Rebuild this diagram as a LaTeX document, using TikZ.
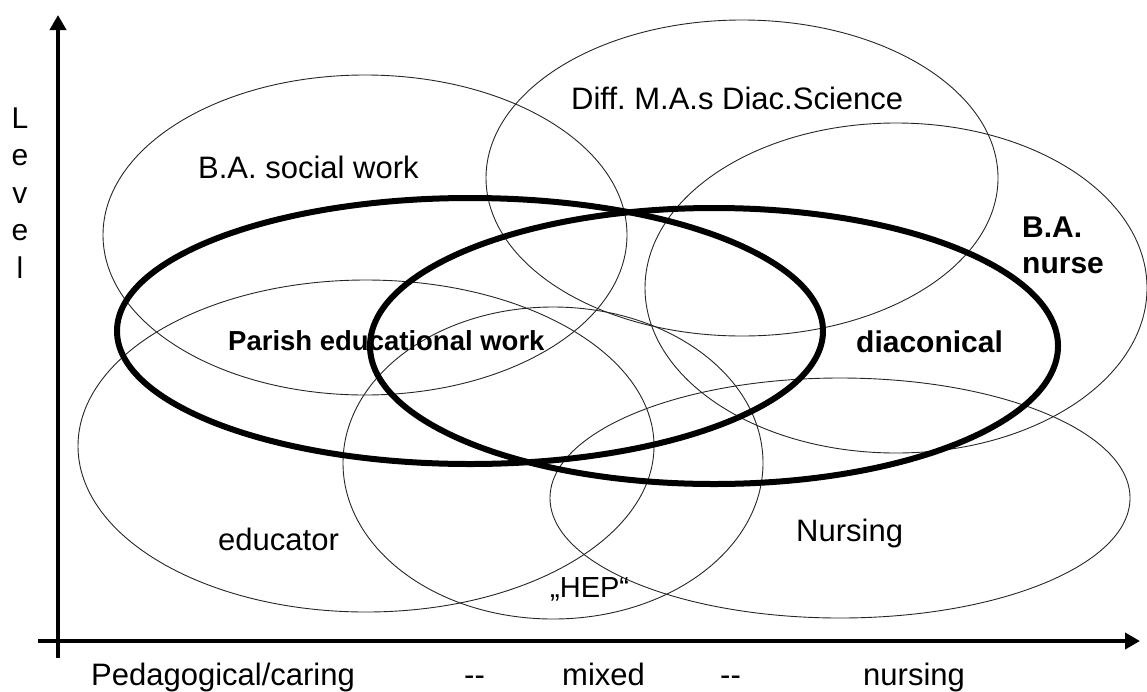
\documentclass[tikz,border=0pt]{standalone}
\usepackage{fontspec}
\setmainfont{Liberation Sans}
\usetikzlibrary{arrows.meta}
\frenchspacing
\begin{document}
\begin{tikzpicture}[x=1pt,y=-1pt,
  thinell/.style={draw=black!85, line width=0.9pt},
  thickell/.style={draw=black, line width=6pt},
  axisline/.style={draw=black, line width=4.5pt, -{Triangle[length=15pt,width=16pt]}},
  lbl/.style={anchor=base west, inner sep=0pt, font=\fontsize{31}{36}\selectfont},
  blbl/.style={anchor=base west, inner sep=0pt, font=\fontsize{30}{36}\selectfont\bfseries},
]
\useasboundingbox (0,0) rectangle (1147,691);
% thin ellipses
\draw[thinell] (365,235) ellipse [x radius=262pt, y radius=160pt];
\draw[thinell] (742,178) ellipse [x radius=256pt, y radius=158pt];
\draw[thinell] (896,288) ellipse [x radius=251pt, y radius=165pt];
\draw[thinell] (366,446) ellipse [x radius=288pt, y radius=166pt];
\draw[thinell] (553,463) ellipse [x radius=210pt, y radius=156pt];
\draw[thinell] (840,498) ellipse [x radius=290pt, y radius=120pt];
% thick ellipses
\draw[thickell] (470,331) ellipse [x radius=353pt, y radius=133pt];
\draw[thickell] (714,346) ellipse [x radius=344pt, y radius=138pt];
% axes
\coordinate (ybot) at (58,658);
\coordinate (ytop) at (58,15);
\coordinate (xleft) at (38,641);
\coordinate (xright) at (1140,641);
\draw[axisline] (ybot) -- (ytop);
\draw[axisline] (xleft) -- (xright);
% labels
\node[lbl] (basw) at (198,178) {B.A. social work};
\node[lbl] (diff) at (571,109) {Diff. M.A.s Diac.Science};
\node[blbl, font=\fontsize{27.5}{33}\selectfont\bfseries] (parish) at (228,350) {Parish educational work};
\node[blbl] (ba) at (1022,237) {B.A.};
\node[blbl] (nurse) at (1022,273) {nurse};
\node[blbl] (diac) at (856,352) {diaconical};
\node[lbl] (educ) at (218,550) {educator};
\node[lbl] (nursing) at (796,541) {Nursing};
\node[lbl, font=\fontsize{29}{34}\selectfont] (hep) at (550,597) {„HEP“};
\node[lbl] (ped) at (91,685) {Pedagogical/caring};
\node[lbl] (d1) at (464,685) {-{}-};
\node[lbl] (mixed) at (562,685) {mixed};
\node[lbl] (d2) at (720,685) {-{}-};
\node[lbl] (nursingx) at (863,685) {nursing};
% vertical Level
\node[lbl, anchor=base, font=\fontsize{30}{36}\selectfont] (lv1) at (20,128) {L};
\node[lbl, anchor=base, font=\fontsize{30}{36}\selectfont] (lv2) at (20,165.5) {e};
\node[lbl, anchor=base, font=\fontsize{30}{36}\selectfont] (lv3) at (20,203) {v};
\node[lbl, anchor=base, font=\fontsize{30}{36}\selectfont] (lv4) at (20,240.5) {e};
\node[lbl, anchor=base, font=\fontsize{30}{36}\selectfont] (lv5) at (20,278) {l};
\end{tikzpicture}
\end{document}
